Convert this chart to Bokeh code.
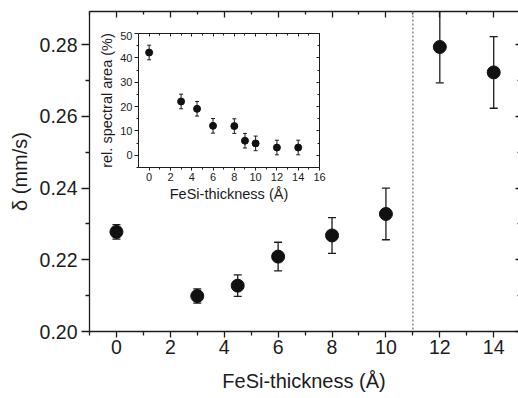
from bokeh.plotting import figure
from bokeh.models import Range1d, FixedTicker, LinearAxis, Span, ColumnDataSource
from bokeh.embed import file_html
from bokeh.resources import INLINE

# ---------------- data ----------------
thickness = [0, 3, 4.5, 6, 8, 10, 12, 14]
delta = [0.2278, 0.2099, 0.2128, 0.2209, 0.2268, 0.2328, 0.2794, 0.2723]
delta_err = [0.0020, 0.0020, 0.0030, 0.0040, 0.0050, 0.0072, 0.0100, 0.0100]

inset_thickness = [0, 3, 4.5, 6, 8, 9, 10, 12, 14]
rel_area = [42.2, 22.1, 19.1, 12.1, 12.0, 6.0, 4.9, 3.2, 3.2]
rel_area_err = [3, 3, 3, 3, 3, 3, 3, 3, 3]

main_xticks = [0, 2, 4, 6, 8, 10, 12, 14]
main_xminor = [-1, 1, 3, 5, 7, 9, 11, 13, 15]
main_yticks = [0.20, 0.22, 0.24, 0.26, 0.28]
main_yminor = [0.21, 0.23, 0.25, 0.27, 0.29]
main_ylabels = ["0.20", "0.22", "0.24", "0.26", "0.28"]

inset_xticks = [0, 2, 4, 6, 8, 10, 12, 14, 16]
inset_xminor = [1, 3, 5, 7, 9, 11, 13, 15]
inset_yticks = [0, 10, 20, 30, 40, 50]
inset_yminor = [-5, 5, 15, 25, 35, 45]

boundary_x = 11

FONT = "Liberation Sans"
INK = "#1c1c1c"


def style_axis(ax, size, tin, tout, min_in, min_out, line=True, lw=1.3):
    ax.axis_line_color = INK if line else None
    ax.axis_line_width = lw
    ax.major_tick_line_color = INK
    ax.minor_tick_line_color = INK
    ax.major_tick_line_width = lw
    ax.minor_tick_line_width = lw
    ax.major_tick_in = tin
    ax.major_tick_out = tout
    ax.minor_tick_in = min_in
    ax.minor_tick_out = min_out
    ax.major_label_text_font = FONT
    ax.major_label_text_color = INK
    ax.major_label_text_font_size = size
    ax.axis_label_text_font = FONT
    ax.axis_label_text_color = INK
    ax.axis_label_text_font_style = "normal"


def mirror_axes(fig, side, major, minor, major_len, minor_len, line, lw):
    """Unlabelled mirror axis: tick marks only (drawn as minor ticks so no labels exist)."""
    a1 = LinearAxis(ticker=FixedTicker(ticks=[], minor_ticks=major))
    style_axis(a1, "10px", 0, 0, major_len, 0, line=line, lw=lw)
    fig.add_layout(a1, side)
    a2 = LinearAxis(ticker=FixedTicker(ticks=[], minor_ticks=minor))
    style_axis(a2, "10px", 0, 0, minor_len, 0, line=False, lw=lw)
    fig.add_layout(a2, side)


# ---------------- main figure ----------------
src = ColumnDataSource(dict(
    x=thickness, y=delta,
    lo=[v - e for v, e in zip(delta, delta_err)],
    hi=[v + e for v, e in zip(delta, delta_err)],
))

p = figure(width=518, height=398, x_range=Range1d(-1, 14.92), y_range=Range1d(0.20, 0.2893),
           output_backend="svg", toolbar_location=None,
           min_border_left=89, min_border_right=0, min_border_top=11, min_border_bottom=67)
p.xgrid.visible = False
p.ygrid.visible = False
p.outline_line_color = None
p.background_fill_color = "white"
p.border_fill_color = "white"

p.xaxis.ticker = FixedTicker(ticks=main_xticks, minor_ticks=main_xminor)
p.yaxis.ticker = FixedTicker(ticks=main_yticks, minor_ticks=main_yminor)
style_axis(p.xaxis[0], "19.5px", 0, 6, 0, 4)
style_axis(p.yaxis[0], "19.5px", 0, 8, 0, 4)
p.yaxis.major_label_overrides = {t: l for t, l in zip(main_yticks, main_ylabels)}
p.xaxis.axis_label = "FeSi-thickness (Å)"
p.yaxis.axis_label = "δ (mm/s)"
p.xaxis.axis_label_text_font_size = "20px"
p.yaxis.axis_label_text_font_size = "20px"
p.xaxis.major_label_standoff = 2
p.yaxis.major_label_standoff = 4
p.xaxis.axis_label_standoff = 13
p.yaxis.axis_label_standoff = 6

mirror_axes(p, "above", main_xticks, main_xminor, 6, 3, True, 1.3)
mirror_axes(p, "right", main_yticks, main_yminor, 3, 1, False, 1.3)

p.add_layout(Span(location=boundary_x, dimension="height", line_color="#8a8a8a",
                  line_dash="2 2", line_width=1.5))

p.segment(x0="x", y0="lo", x1="x", y1="hi", source=src, line_color=INK, line_width=1.3)
p.scatter(x="x", y="hi", source=src, marker="dash", size=8, line_color=INK, line_width=1.3)
p.scatter(x="x", y="lo", source=src, marker="dash", size=8, line_color=INK, line_width=1.3)
p.scatter(x="x", y="y", source=src, size=13, fill_color="#111111", line_color="#111111")

# ---------------- inset ----------------
isrc = ColumnDataSource(dict(
    x=inset_thickness, y=rel_area,
    lo=[v - e for v, e in zip(rel_area, rel_area_err)],
    hi=[v + e for v, e in zip(rel_area, rel_area_err)],
))

q = figure(width=48 + 181 + 14, height=2 + 134 + 38, x_range=Range1d(-1, 16), y_range=Range1d(-5, 50),
           output_backend="svg", toolbar_location=None,
           min_border_left=48, min_border_right=14, min_border_top=2, min_border_bottom=38)
q.xgrid.visible = False
q.ygrid.visible = False
q.outline_line_color = None
q.background_fill_alpha = 0
q.border_fill_alpha = 0

q.xaxis.ticker = FixedTicker(ticks=inset_xticks, minor_ticks=inset_xminor)
q.yaxis.ticker = FixedTicker(ticks=inset_yticks, minor_ticks=inset_yminor)
style_axis(q.xaxis[0], "11px", 0, 3, 0, 2, lw=1)
style_axis(q.yaxis[0], "11px", 0, 4, 0, 2, lw=1)
q.xaxis.axis_label = "FeSi-thickness (Å)"
q.yaxis.axis_label = "rel. spectral area (%)"
q.xaxis.axis_label_text_font_size = "14.5px"
q.yaxis.axis_label_text_font_size = "14.5px"
q.xaxis.major_label_standoff = 2
q.yaxis.major_label_standoff = 2
q.xaxis.axis_label_standoff = 2
q.yaxis.axis_label_standoff = 2

mirror_axes(q, "above", inset_xticks, inset_xminor, 3, 2, True, 1)
mirror_axes(q, "right", inset_yticks, inset_yminor, 3, 2, True, 1)

q.segment(x0="x", y0="lo", x1="x", y1="hi", source=isrc, line_color=INK, line_width=1)
q.scatter(x="x", y="hi", source=isrc, marker="dash", size=4, line_color=INK, line_width=1)
q.scatter(x="x", y="lo", source=isrc, marker="dash", size=4, line_color=INK, line_width=1)
q.scatter(x="x", y="y", source=isrc, size=7, fill_color="#111111", line_color="#111111")

# the inset floats over the main chart
q.styles = {"position": "absolute", "left": "90px", "top": "31px", "z-index": "10"}

open("out.html", "w").write(file_html([p, q], INLINE))
